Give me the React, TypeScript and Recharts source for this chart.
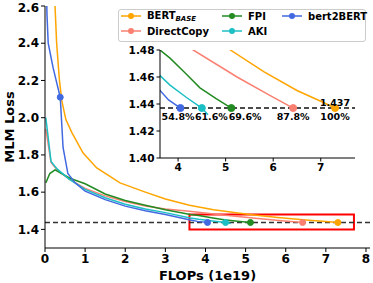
import React from "react";
import { LineChart, Line, XAxis, YAxis, ReferenceLine, ReferenceArea, ReferenceDot } from "recharts";

// FLOPs (1e19) vs MLM loss
const bertBase = [
  { x: 0.22, y: 2.78 }, { x: 0.25, y: 2.6 }, { x: 0.29, y: 2.4 }, { x: 0.36, y: 2.2 },
  { x: 0.42, y: 2.09 }, { x: 0.52, y: 1.99 }, { x: 0.67, y: 1.92 }, { x: 0.95, y: 1.81 },
  { x: 1.29, y: 1.73 }, { x: 1.87, y: 1.65 }, { x: 2.5, y: 1.6 }, { x: 3.0, y: 1.563 },
  { x: 3.6, y: 1.53 }, { x: 4.2, y: 1.505 }, { x: 5.1, y: 1.48 }, { x: 5.8, y: 1.464 },
  { x: 6.5, y: 1.45 }, { x: 7.0, y: 1.442 }, { x: 7.3, y: 1.437 },
];
const directCopy = [
  { x: 0.02, y: 1.94 }, { x: 0.15, y: 1.76 }, { x: 0.3, y: 1.72 }, { x: 0.6, y: 1.67 },
  { x: 1.0, y: 1.62 }, { x: 1.5, y: 1.58 }, { x: 2.0, y: 1.55 }, { x: 2.5, y: 1.525 },
  { x: 3.0, y: 1.51 }, { x: 3.6, y: 1.497 }, { x: 4.32, y: 1.48 }, { x: 5.24, y: 1.46 },
  { x: 5.9, y: 1.447 }, { x: 6.42, y: 1.437 },
];
const fpi = [
  { x: 0.02, y: 1.65 }, { x: 0.12, y: 1.7 }, { x: 0.25, y: 1.72 }, { x: 0.62, y: 1.675 },
  { x: 1.0, y: 1.645 }, { x: 1.5, y: 1.59 }, { x: 2.0, y: 1.555 }, { x: 2.5, y: 1.53 },
  { x: 3.0, y: 1.505 }, { x: 3.62, y: 1.48 }, { x: 3.83, y: 1.474 }, { x: 4.15, y: 1.463 },
  { x: 4.46, y: 1.452 }, { x: 4.8, y: 1.444 }, { x: 5.12, y: 1.437 },
];
const aki = [
  { x: 0.02, y: 2.0 }, { x: 0.15, y: 1.765 }, { x: 0.3, y: 1.725 }, { x: 0.6, y: 1.67 },
  { x: 1.0, y: 1.615 }, { x: 1.5, y: 1.57 }, { x: 2.0, y: 1.535 }, { x: 2.5, y: 1.51 },
  { x: 3.0, y: 1.49 }, { x: 3.62, y: 1.461 }, { x: 3.83, y: 1.454 }, { x: 4.17, y: 1.445 },
  { x: 4.5, y: 1.437 }, { x: 4.63, y: 1.432 },
];
const bert2bert = [
  { x: 0.03, y: 2.75 }, { x: 0.05, y: 2.55 }, { x: 0.08, y: 2.4 }, { x: 0.2, y: 2.27 },
  { x: 0.3, y: 2.18 }, { x: 0.38, y: 2.11 }, { x: 0.45, y: 1.84 }, { x: 0.57, y: 1.7 },
  { x: 0.75, y: 1.65 }, { x: 1.0, y: 1.605 }, { x: 1.5, y: 1.56 }, { x: 2.0, y: 1.525 },
  { x: 2.5, y: 1.5 }, { x: 3.0, y: 1.48 }, { x: 3.62, y: 1.45 }, { x: 3.8, y: 1.443 },
  { x: 4.05, y: 1.437 },
];

const targetLoss = 1.437;
const ratioLabels = ["54.8%", "61.6%", "69.6%", "87.8%", "100%"];
const ratioLabelX = [4.0, 4.7, 5.41, 6.42, 7.3];

const series = [
  { key: "bertBase", name: "BERT", sub: "BASE", color: "#FFA500", data: bertBase, marks: [7.3] },
  { key: "directCopy", name: "DirectCopy", sub: "", color: "#FA8072", data: directCopy, marks: [6.42] },
  { key: "fpi", name: "FPI", sub: "", color: "#228B22", data: fpi, marks: [5.12] },
  { key: "aki", name: "AKI", sub: "", color: "#1CBFC4", data: aki, marks: [4.5] },
  { key: "bert2bert", name: "bert2BERT", sub: "", color: "#4169E1", data: bert2bert, marks: [0.38, 4.05] },
];

const font = "'DejaVu Sans', sans-serif";
const tickStyle = { fontSize: 12, fontWeight: 700, fill: "#000", fontFamily: font };
const insetTick = { fontSize: 10.5, fontWeight: 700, fill: "#000", fontFamily: font };

const makeDot = (marks: number[], color: string, r: number) => (p: any) =>
  marks.includes(p.payload.x) ? (
    <circle key={p.index} cx={p.cx} cy={p.cy} r={r} fill={color} stroke={color} />
  ) : (
    <g key={p.index} />
  );

// legend layout (col, row)
const legendPos = [
  [121, 16], [121, 31], [222, 16], [222, 31], [282, 16],
];

export default function App() {
  return (
    <div style={{ position: "absolute", left: 0, top: 0, width: 373, height: 283, background: "#fff", fontFamily: font }}>
      <LineChart width={373} height={283} margin={{ top: 6, right: 3, bottom: 0, left: 0 }}>
        <XAxis
          type="number"
          dataKey="x"
          domain={[0, 8.1]}
          ticks={[0, 1, 2, 3, 4, 5, 6, 7, 8]}
          allowDataOverflow
          height={35}
          tick={tickStyle}
          tickSize={4}
          stroke="#000"
          label={{ value: "FLOPs (1e19)", position: "insideBottom", offset: 3, style: { fontSize: 13, fontWeight: 700, fill: "#000", fontFamily: font } }}
        />
        <YAxis
          type="number"
          domain={[1.3, 2.6]}
          ticks={[1.4, 1.6, 1.8, 2.0, 2.2, 2.4, 2.6]}
          tickFormatter={(v) => v.toFixed(1)}
          allowDataOverflow
          width={45}
          tick={tickStyle}
          tickSize={4}
          stroke="#000"
          label={{
            content: ({ viewBox }: any) => (
              <text
                x={viewBox.x + 9}
                y={viewBox.y + viewBox.height / 2}
                transform={`rotate(-90, ${viewBox.x + 9}, ${viewBox.y + viewBox.height / 2})`}
                textAnchor="middle"
                dominantBaseline="central"
                style={{ fontSize: 13, fontWeight: 700, fill: "#000", fontFamily: font }}
              >
                MLM Loss
              </text>
            ),
          }}
        />
        <ReferenceLine y={targetLoss} stroke="#333" strokeWidth={1.5} strokeDasharray="5 3" />
        {series.map((s) => (
          <Line
            key={s.key}
            data={s.data}
            dataKey="y"
            type="linear"
            stroke={s.color}
            strokeWidth={1.5}
            dot={makeDot(s.marks, s.color, 3)}
            activeDot={false}
            isAnimationActive={false}
          />
        ))}
        <ReferenceArea x1={3.6} x2={7.7} y1={1.4} y2={1.48} fill="none" stroke="#FF0000" strokeWidth={2} />
      </LineChart>

      <div style={{ position: "absolute", left: 120, top: 44, background: "#fff" }}>
        <LineChart width={240} height={135} margin={{ top: 6, right: 5, bottom: 0, left: 0 }}>
          <XAxis
            type="number"
            dataKey="x"
            domain={[3.62, 7.72]}
            ticks={[4, 5, 6, 7]}
            allowDataOverflow
            height={21}
            tick={insetTick}
            tickSize={3.5}
            stroke="#000"
          />
          <YAxis
            type="number"
            domain={[1.4, 1.48]}
            ticks={[1.4, 1.42, 1.44, 1.46, 1.48]}
            tickFormatter={(v) => v.toFixed(2)}
            allowDataOverflow
            width={40}
            tick={insetTick}
            tickSize={3.5}
            stroke="#000"
          />
          <ReferenceLine y={targetLoss} stroke="#111" strokeWidth={1.5} strokeDasharray="5 3" />
          {series.map((s) => (
            <Line
              key={s.key}
              data={s.data}
              dataKey="y"
              type="linear"
              stroke={s.color}
              strokeWidth={1.5}
              dot={makeDot(s.marks, s.color, 3.5)}
              activeDot={false}
              isAnimationActive={false}
            />
          ))}
          {ratioLabels.map((t, i) => (
            <ReferenceDot
              key={t}
              x={ratioLabelX[i]}
              y={targetLoss}
              r={0}
              ifOverflow="visible"
              label={{ value: t, position: "bottom", offset: 5, style: { fontSize: 9.5, fontWeight: 700, fill: "#000", fontFamily: font } }}
            />
          ))}
          <ReferenceDot
            x={7.3}
            y={targetLoss}
            r={0}
            ifOverflow="visible"
            label={{ value: "1.437", position: "top", offset: 2, style: { fontSize: 9.5, fontWeight: 700, fill: "#000", fontFamily: font } }}
          />
        </LineChart>
      </div>

      <div
        style={{
          position: "absolute",
          left: 118,
          top: 9,
          width: 246,
          height: 31,
          border: "1px solid #ccc",
          borderRadius: 3,
          background: "rgba(255,255,255,0.85)",
        }}
      />
      {series.map((s, i) => (
        <div key={s.key} style={{ position: "absolute", left: legendPos[i][0], top: legendPos[i][1] - 7, height: 14, display: "flex", alignItems: "center" }}>
          <svg width={20} height={14} style={{ display: "block" }}>
            <line x1={0} y1={7} x2={20} y2={7} stroke={s.color} strokeWidth={1.5} />
            <circle cx={10} cy={7} r={3} fill={s.color} />
          </svg>
          <span style={{ marginLeft: 6, fontSize: 10, fontWeight: 700, color: "#000", whiteSpace: "nowrap" }}>
            {s.name}
            {s.sub && <sub style={{ fontSize: 7, fontStyle: "italic", verticalAlign: "-2px" }}>{s.sub}</sub>}
          </span>
        </div>
      ))}
    </div>
  );
}
